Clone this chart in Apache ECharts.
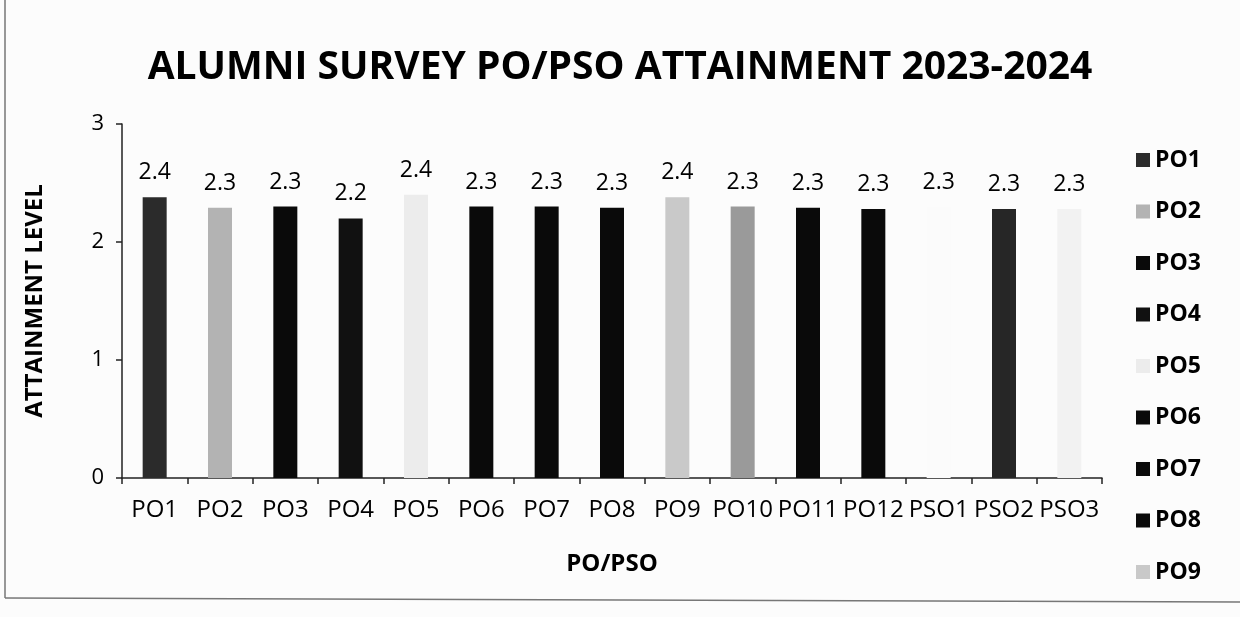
<!DOCTYPE html>
<html>
<head>
<meta charset="utf-8">
<script src="https://cdn.jsdelivr.net/npm/echarts@6/dist/echarts.min.js"></script>
<style>
  html, body { margin: 0; padding: 0; background: #fcfcfc; }
  #main { width: 1240px; height: 617px; }
</style>
</head>
<body>
<div id="main"></div>
<script>
  // categories and values
  var categories = ['PO1', 'PO2', 'PO3', 'PO4', 'PO5', 'PO6', 'PO7', 'PO8', 'PO9', 'PO10', 'PO11', 'PO12', 'PSO1', 'PSO2', 'PSO3'];
  var values = [2.38, 2.29, 2.3, 2.2, 2.4, 2.3, 2.3, 2.29, 2.38, 2.3, 2.29, 2.28, 2.3, 2.28, 2.28];
  var barColors = ['#2b2b2b', '#b3b3b3', '#0a0a0a', '#111111', '#ececec', '#0a0a0a', '#0a0a0a', '#0a0a0a',
                   '#c9c9c9', '#9a9a9a', '#0a0a0a', '#0a0a0a', '#fbfbfb', '#262626', '#f2f2f2'];
  // the printed legend is cut off after PO9
  var legendItems = ['PO1', 'PO2', 'PO3', 'PO4', 'PO5', 'PO6', 'PO7', 'PO8', 'PO9'];
  var yTicks = [0, 1, 2, 3];

  var fontFamily = '"Open Sans", "Liberation Sans", sans-serif';

  // one series per category so every bar gets its own legend entry
  var series = categories.map(function (name, i) {
    var d = categories.map(function (c, j) { return j === i ? values[i] : '-'; });
    return {
      name: name,
      type: 'bar',
      stack: 'all',
      barWidth: 24,
      data: d,
      itemStyle: { color: barColors[i] },
      label: {
        show: true,
        position: 'top',
        distance: 13,
        color: '#000',
        fontFamily: fontFamily,
        fontSize: 23,
        formatter: function (p) { return p.value.toFixed(1); }
      }
    };
  });

  var myChart = echarts.init(document.getElementById('main'));
  var option = {
    backgroundColor: '#fcfcfc',
    animation: false,
    title: {
      text: 'ALUMNI SURVEY PO/PSO ATTAINMENT 2023-2024',
      left: 'center',
      top: 43,
      textStyle: { fontFamily: fontFamily, fontSize: 39, fontWeight: 'bold', color: '#000' }
    },
    legend: {
      data: legendItems,
      orient: 'vertical',
      left: 1131,
      top: 143,
      itemGap: 27.5,
      itemWidth: 14,
      itemHeight: 14,
      icon: 'rect',
      textStyle: { fontFamily: fontFamily, fontSize: 23, lineHeight: 24, fontWeight: 'bold', color: '#000' }
    },
    grid: { left: 122, right: 138, top: 124, bottom: 139 },
    xAxis: {
      type: 'category',
      data: categories,
      name: 'PO/PSO',
      nameLocation: 'middle',
      nameGap: 74,
      nameTextStyle: { fontFamily: fontFamily, fontSize: 24, fontWeight: 'bold', color: '#000' },
      axisLine: { lineStyle: { color: '#222', width: 1.5 } },
      axisTick: { show: true, length: 6, lineStyle: { color: '#222', width: 1.5 } },
      axisLabel: { interval: 0, margin: 20, fontFamily: fontFamily, fontSize: 24, color: '#000' }
    },
    yAxis: {
      type: 'value',
      min: 0,
      max: yTicks[yTicks.length - 1],
      interval: 1,
      name: 'ATTAINMENT LEVEL',
      nameLocation: 'middle',
      nameGap: 75,
      nameTextStyle: { fontFamily: fontFamily, fontSize: 24, fontWeight: 'bold', color: '#000' },
      splitLine: { show: false },
      axisLine: { show: true, lineStyle: { color: '#222', width: 1.5 } },
      axisTick: { show: true, length: 6, lineStyle: { color: '#222', width: 1.5 } },
      axisLabel: { margin: 18, fontFamily: fontFamily, fontSize: 22, color: '#000' }
    },
    graphic: [
      { type: 'line', shape: { x1: 5, y1: 0, x2: 5, y2: 598 }, style: { stroke: '#777', lineWidth: 1.5 } },
      { type: 'line', shape: { x1: 5, y1: 598, x2: 1240, y2: 602 }, style: { stroke: '#777', lineWidth: 1.5 } }
    ],
    series: series
  };
  myChart.setOption(option);
</script>
</body>
</html>
